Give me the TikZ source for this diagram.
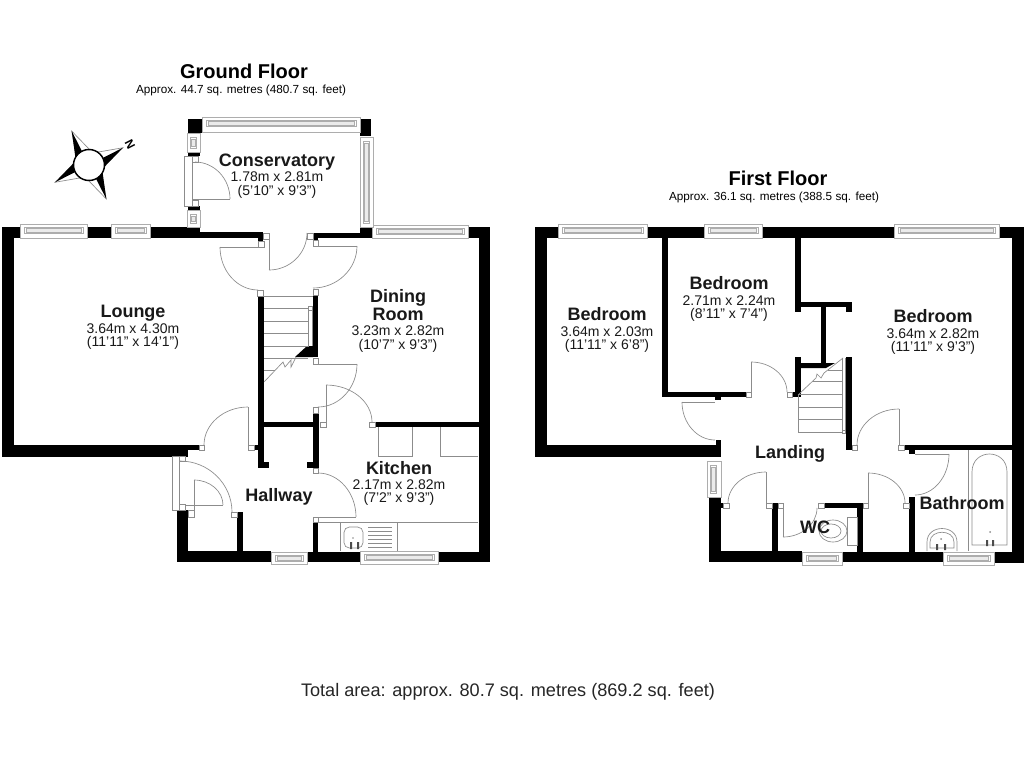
\documentclass[tikz,border=0pt]{standalone}
\usepackage{fontspec}
\setmainfont{Liberation Sans}
\usetikzlibrary{calc}
\definecolor{ln}{gray}{0.55}
\definecolor{lw}{gray}{0.68}
\tikzset{
  x=0.75pt,y=-0.75pt,
  thin line/.style={draw=ln,line width=0.5pt},
  win line/.style={draw=lw,line width=0.45pt},
  wallfill/.style={fill=black,draw=none},
  boxdraw/.style={draw=ln,fill=white,line width=0.5pt},
  winbox/.style={draw=lw,fill=white,line width=0.6pt},
  title/.style={font=\bfseries\fontsize{15}{15}\selectfont,inner sep=0pt},
  approx/.style={font=\fontsize{8.8}{10}\selectfont,inner sep=0pt},
  roomname/.style={font=\bfseries\fontsize{13.5}{14}\selectfont,inner sep=0pt,text=black!90},
  roomdim/.style={font=\fontsize{10.5}{12}\selectfont,inner sep=0pt,text=black!90},
  total/.style={font=\fontsize{13.6}{15}\selectfont,inner sep=0pt,text=black!85}
}
\newcommand{\wl}[4]{\fill[wallfill] (#1,#2) rectangle (#3,#4);}
\newcommand{\sq}[4]{\draw[boxdraw] (#1,#2) rectangle (#3,#4);}
\newcommand{\winH}[4]{\draw[winbox] (#1,#2) rectangle (#3,#4);
  \draw[win line] ($(#1,#2)+(4,3)$) rectangle ($(#3,#2)+(-4,9)$);
  \fill[black!8] ($(#1,#2)+(6,4)$) rectangle ($(#3,#2)+(-6,8)$);
  \draw[win line] ($(#1,#2)+(6,4)$) rectangle ($(#3,#2)+(-6,8)$);}
\newcommand{\winV}[4]{\draw[winbox] (#1,#2) rectangle (#3,#4);
  \draw[win line] ($(#1,#2)+(3,4)$) rectangle ($(#1,#4)+(9,-4)$);
  \fill[black!8] ($(#1,#2)+(4,6)$) rectangle ($(#1,#4)+(8,-6)$);
  \draw[win line] ($(#1,#2)+(4,6)$) rectangle ($(#1,#4)+(8,-6)$);}
\newcommand{\dr}[3]{\draw[thin line] #1 .. controls ($#1!.55!#2$) and ($#3!.55!#2$) .. #3;}
\newcommand{\arm}[2]{\begin{scope}[shift={(89,165)},rotate=#1]
  \draw[draw=ln,fill=white,line width=0.5pt] (38,0) -- (12,-8) -- (12,8) -- cycle;
  \fill[black] (38,0) -- (12,#2*9) -- (15,0) -- cycle;
  \end{scope}}
\begin{document}
\begin{tikzpicture}
\useasboundingbox (0,0) rectangle (1024,768);
\fill[white] (0,0) rectangle (1024,768);

% ---------- compass
\arm{27}{1}\arm{117}{-1}\arm{207}{1}\arm{297}{-1}
\draw[black,fill=white,line width=1.1pt] (89,165) circle (15.5);
\node[font=\bfseries\fontsize{9}{9}\selectfont,inner sep=0pt,rotate=-63] (north) at (130,144) {N};

% ---------- ground floor walls
\wl{2}{227}{14}{457}
\wl{2}{227}{200}{238}
\wl{200}{232}{263}{238}
\wl{258}{238}{263}{242}
\wl{313}{233}{372}{238}
\wl{313}{233}{318}{240}
\wl{360}{227}{372}{238}
\wl{468}{227}{490}{238}
\wl{479}{227}{490}{562}
\wl{2}{445}{188}{457}
\wl{188}{445}{199}{450}
\wl{254}{445}{258}{450}
\wl{258}{297}{264}{468}
\wl{258}{462}{269}{468}
\wl{313}{296}{318}{357}
\fill[wallfill] (295,357) -- (307,346) -- (313,346) -- (313,357) -- cycle;
\wl{264}{422}{318}{427}
\wl{313}{413}{319}{468}
\wl{307}{462}{319}{468}
\wl{375}{422}{479}{427}
\wl{313}{522}{318}{552}
\wl{177}{510}{188}{562}
\wl{237}{512}{243}{552}
\wl{177}{551}{271}{562}
\wl{307}{552}{360}{562}
\wl{438}{552}{490}{562}
% conservatory
\wl{188}{119}{202}{133}
\wl{360}{119}{371}{136}
\wl{188}{152}{200}{156}
\wl{188}{206}{200}{210}
\wl{187}{227}{200}{238}

% ---------- ground floor windows and frames
\winH{20}{224}{87}{238}
\winH{111}{224}{150}{238}
\winH{202}{117}{360}{132}
\winH{372}{225}{468}{238}
\winH{271}{552}{307}{564}
\winH{360}{551}{438}{564}
\winV{360}{137}{373}{227}
\winV{187}{133}{200}{152}
\winV{187}{210}{200}{227}
\sq{184}{156}{192}{206}
\sq{192}{156}{198}{162}
\sq{192}{200}{198}{206}
\sq{263}{233}{269}{239}
\sq{258}{241}{264}{247}
\sq{307}{233}{313}{239}
\sq{313}{240}{318}{246}
\sq{257}{290}{263}{296}
\sq{313}{289}{318}{295}
\sq{313}{358}{318}{364}
\sq{313}{407}{318}{413}
\sq{320}{422}{326}{427}
\sq{369}{422}{375}{427}
\sq{199}{445}{204}{450}
\sq{248}{445}{254}{450}
\sq{172}{456}{179}{510}
\sq{179}{456}{185}{461}
\sq{179}{504}{185}{510}
\sq{188}{510}{194}{517}
\sq{231}{512}{237}{517}
\sq{313}{468}{318}{473}
\sq{313}{517}{318}{522}

% ---------- ground floor doors
\draw[thin line] (269,239) -- (269,270);
\dr{(269,270)}{(307,270)}{(307,233)}
\draw[thin line] (220,247) -- (258,247);
\dr{(220,247)}{(220,290)}{(258,290)}
\draw[thin line] (318,246) -- (357,246);
\dr{(357,246)}{(357,288)}{(313,288)}
\draw[thin line] (192,199) -- (230,199);
\dr{(230,199)}{(230,162)}{(195,162)}
\draw[thin line] (318,364) -- (357,364);
\dr{(357,364)}{(357,407)}{(318,407)}
\draw[thin line] (326,385) -- (326,422);
\dr{(326,385)}{(372,385)}{(372,422)}
\draw[thin line] (248,407) -- (248,445);
\dr{(248,407)}{(204,407)}{(204,445)}
\dr{(180,461)}{(232,461)}{(232,512)}
\draw[thin line] (185,505) -- (223,505);
\draw[thin line] (194,480) -- (194,510);
\dr{(194,480)}{(223,480)}{(223,505)}
\draw[thin line] (318,517) -- (356,517);
\dr{(318,473)}{(356,473)}{(356,517)}

% ---------- ground floor stairs
\draw[thin line] (264,296) -- (313,296);
\foreach \yy in {308,321,333,346,358} {\draw[thin line] (264,\yy) -- (308,\yy);}
\draw[thin line] (264,370) -- (275,370);
\draw[thin line] (308,308) -- (308,347) (312,308) -- (312,346);
\sq{308}{306}{312}{310}
\draw[thin line] (264,382) -- (283,362) -- (285,367) -- (291,360) -- (291,367) -- (296,357);

% ---------- kitchen fittings
\draw[thin line] (378,427) -- (378,456) -- (412,456) -- (412,427);
\draw[thin line] (440,427) -- (440,456) -- (478,456);
\draw[thin line] (318,522) -- (478,522);
\draw[thin line] (340,522) -- (340,551) (397,522) -- (397,551);
\draw[thin line,rounded corners=4pt] (344,527) rectangle (363,548);
\foreach \yy in {527,531,535,539,543,547} {\draw[thin line] (368,\yy) -- (392,\yy);}
\fill[ln] (353,538) circle (0.8);
\fill[black!70] (350,542) rectangle (352,549) (357,542) rectangle (359,549);

% ---------- first floor walls
\wl{535}{227}{547}{457}
\wl{535}{227}{1023}{238}
\wl{1012}{227}{1024}{563}
\wl{662}{238}{668}{397}
\wl{662}{392}{746}{397}
\wl{715}{397}{721}{400}
\wl{795}{238}{801}{312}
\wl{801}{302}{852}{307}
\wl{846}{302}{852}{312}
\wl{821}{307}{826}{363}
\wl{795}{357}{801}{397}
\wl{792}{392}{798}{397}
\fill[wallfill] (801,363) -- (835,363) -- (826,368) -- (801,368) -- cycle;
\wl{846}{357}{852}{450}
\wl{535}{445}{721}{457}
\wl{716}{440}{721}{457}
\wl{709}{497}{721}{562}
\wl{721}{503}{723}{508}
\wl{709}{551}{802}{562}
\wl{772}{503}{778}{551}
\wl{824}{503}{863}{508}
\wl{857}{503}{863}{552}
\wl{842}{552}{943}{562}
\wl{994}{552}{1024}{563}
\wl{904}{445}{1013}{450}
\wl{909}{450}{915}{454}
\wl{909}{497}{915}{552}

% ---------- first floor windows and frames
\winH{558}{224}{647}{238}
\winH{704}{224}{762}{238}
\winH{894}{224}{999}{238}
\winH{802}{552}{842}{565}
\winH{943}{552}{994}{565}
\winV{707}{461}{721}{497}
\sq{746}{392}{751}{397}
\sq{787}{392}{792}{397}
\sq{852}{445}{857}{450}
\sq{898}{445}{904}{450}
\sq{723}{503}{729}{508}
\sq{766}{503}{772}{508}
\sq{778}{503}{783}{508}
\sq{818}{503}{824}{508}
\sq{863}{503}{868}{508}
\sq{903}{503}{909}{508}

% ---------- first floor doors
\draw[thin line] (751,362) -- (751,392);
\dr{(751,362)}{(787,362)}{(787,392)}
\draw[thin line] (682,402) -- (715,402);
\dr{(682,402)}{(682,440)}{(715,440)}
\draw[thin line] (899,409) -- (899,445);
\dr{(857,445)}{(857,409)}{(899,409)}
\draw[thin line] (915,454) -- (949,454);
\dr{(949,454)}{(949,495)}{(915,495)}
\draw[thin line] (868,473) -- (868,503);
\dr{(868,473)}{(905,473)}{(905,503)}
\draw[thin line] (783,508) -- (783,537);
\dr{(783,537)}{(817,537)}{(817,508)}
\draw[thin line] (766,472) -- (766,503);
\dr{(766,472)}{(728,472)}{(728,503)}

% ---------- first floor stairs
\draw[thin line] (798,395) -- (798,432) -- (842,432);
\foreach \yy in {407,419} {\draw[thin line] (798,\yy) -- (842,\yy);}
\draw[thin line] (798,394) -- (842,394);
\draw[thin line] (813,381) -- (842,381) (828,370) -- (842,370);
\draw[thin line] (798,395) -- (816,378) -- (817,374) -- (821,378) -- (824,373) -- (843,358);
\draw[thin line] (842,358) -- (842,432) (845,358) -- (845,432);
\sq{842}{430}{845}{433}

% ---------- toilet and bathroom
\draw[boxdraw] (847,517) rectangle (857,545);
\draw[thin line] (833,531) ellipse (14 and 11);
\draw[thin line] (831,531) ellipse (10 and 7);
\draw[thin line] (968,450) -- (968,551);
\draw[thin line] (972,545) -- (972,472) .. controls (972,448) and (1007,448) .. (1007,472) -- (1007,545) -- cycle;
\fill[ln] (990,532) circle (1);
\fill[black!70] (986,540) rectangle (988,546) (992,540) rectangle (994,546);
\draw[thin line] (927,551) -- (927,542) .. controls (927,524) and (957,524) .. (957,542) -- (957,551);
\draw[thin line] (930,548) -- (930,542) .. controls (930,529) and (954,529) .. (954,542) -- (954,548) -- cycle;
\fill[ln] (941,539) circle (1);
\fill[black!70] (936,544) rectangle (938,550) (944,544) rectangle (946,550);

% ---------- texts
\node[title] (gftitle) at (244,71) {Ground Floor};
\node[approx] (gfarea) at (241,90.5) {Approx. 44.7 sq. metres (480.7 sq. feet)};
\node[title] (fftitle) at (778,178) {First Floor};
\node[approx] (ffarea) at (774,197.5) {Approx. 36.1 sq. metres (388.5 sq. feet)};
\node[total] (totalarea) at (508,692) {Total area: approx. 80.7 sq. metres (869.2 sq. feet)};

\node[roomname] (lounge) at (133,313) {Lounge};
\node[roomdim] (loungea) at (133,328.5) {3.64m x 4.30m};
\node[roomdim] (loungeb) at (133,343) {(11'11" x 14'1")};
\node[roomname] (cons) at (277,162) {Conservatory};
\node[roomdim] (consa) at (277,177) {1.78m x 2.81m};
\node[roomdim] (consb) at (277,191.5) {(5'10" x 9'3")};
\node[roomname] (dining) at (398,298) {Dining};
\node[roomname] (diningb) at (398,314) {Room};
\node[roomdim] (dininga) at (398,331) {3.23m x 2.82m};
\node[roomdim] (diningc) at (398,345.5) {(10'7" x 9'3")};
\node[roomname] (kitchen) at (399,468) {Kitchen};
\node[roomdim] (kitchena) at (399,484.5) {2.17m x 2.82m};
\node[roomdim] (kitchenb) at (399,499) {(7'2" x 9'3")};
\node[roomname] (hallway) at (279,497) {Hallway};
\node[roomname] (bedl) at (607,314) {Bedroom};
\node[roomdim] (bedla) at (607,331.5) {3.64m x 2.03m};
\node[roomdim] (bedlb) at (607,346) {(11'11" x 6'8")};
\node[roomname] (bedm) at (729,283) {Bedroom};
\node[roomdim] (bedma) at (729,300.5) {2.71m x 2.24m};
\node[roomdim] (bedmb) at (729,315) {(8'11" x 7'4")};
\node[roomname] (bedr) at (933,316) {Bedroom};
\node[roomdim] (bedra) at (933,333.5) {3.64m x 2.82m};
\node[roomdim] (bedrb) at (933,348) {(11'11" x 9'3")};
\node[roomname] (landing) at (790,454) {Landing};
\node[roomname] (wc) at (815,527) {WC};
\node[roomname] (bathroom) at (962,503) {Bathroom};
\end{tikzpicture}
\end{document}
